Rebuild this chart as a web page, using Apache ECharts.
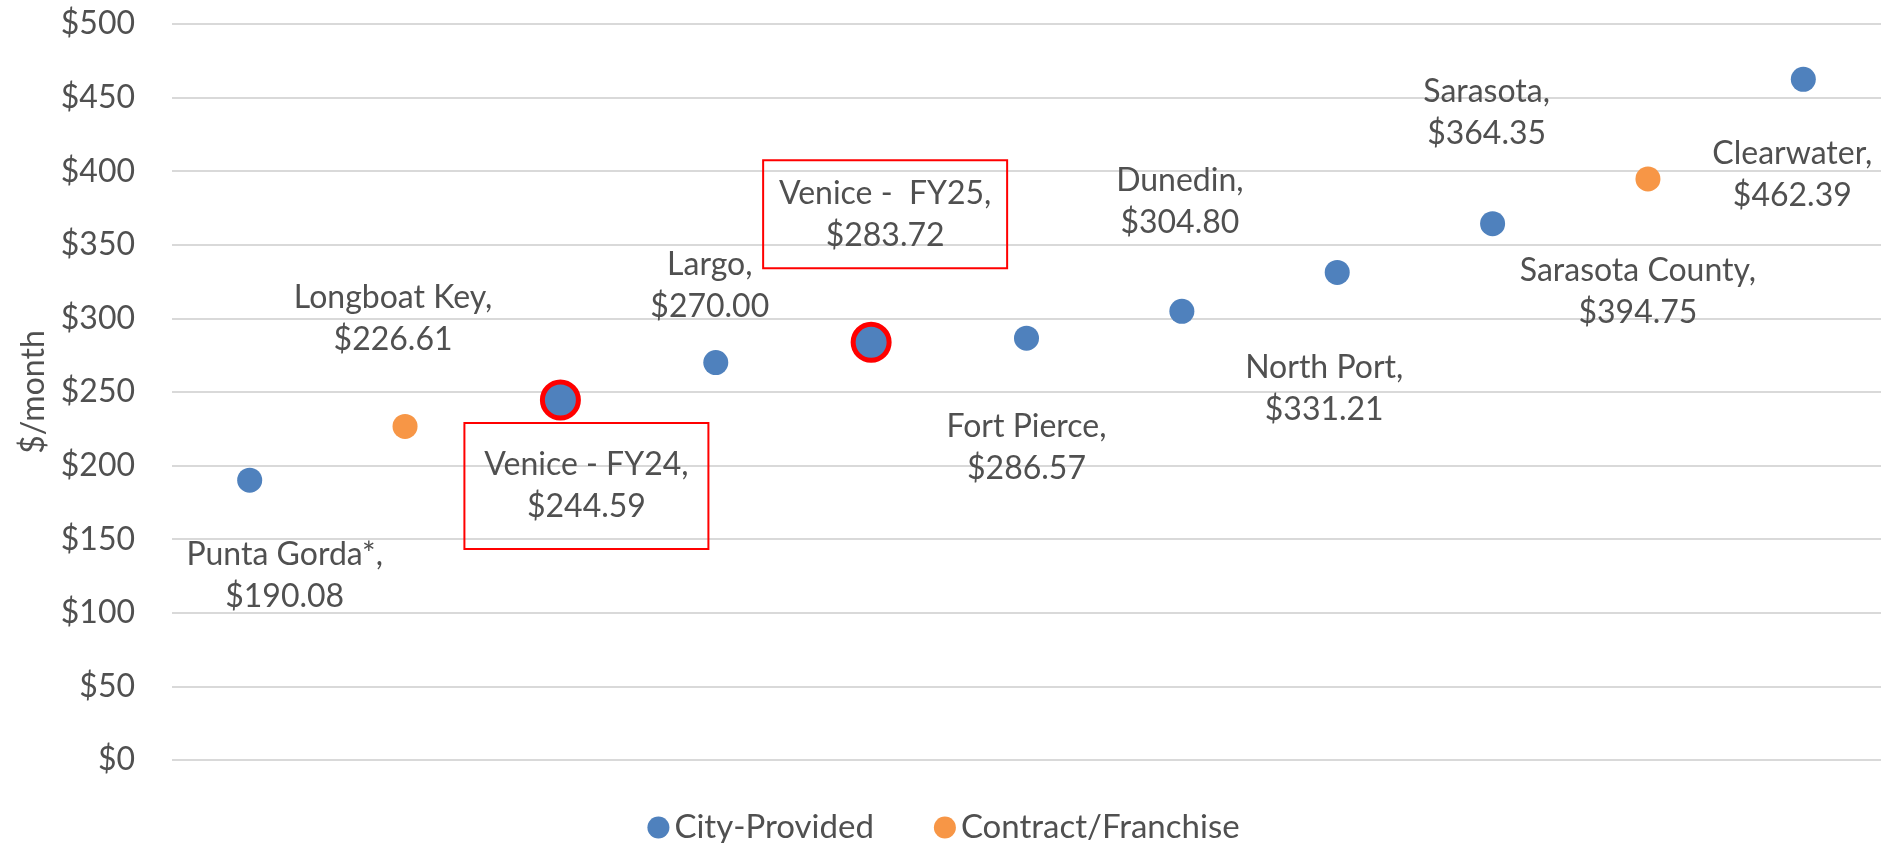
<!DOCTYPE html>
<html>
<head>
<meta charset="utf-8">
<script src="https://cdn.jsdelivr.net/npm/echarts@6/dist/echarts.min.js"></script>
<style>
    html, body { margin: 0; padding: 0; background: #fff; }
    #chart { width: 1887px; height: 843px; }
</style>
</head>
<body>
<div id="chart"></div>
<script>
// cities, in the order they appear left to right
const cities = ['Punta Gorda*', 'Longboat Key', 'Venice - FY24', 'Largo', 'Venice -  FY25',
    'Fort Pierce', 'Dunedin', 'North Port', 'Sarasota', 'Sarasota County', 'Clearwater'];
// $/month, null where the city belongs to the other group
const cityProvided = [190.08, null, 244.59, 270.00, 283.72, 286.57, 304.80, 331.21, 364.35, null, 462.39];
const contractFranchise = [null, 226.61, null, null, null, null, null, null, null, 394.75, null];
// Venice points get the red outline and boxed label
const highlighted = ['Venice - FY24', 'Venice -  FY25'];
const yTicks = { min: 0, max: 500, step: 50 };

// where each data label sits relative to its dot (layout only)
const labelOffsets = [
    [35, 95], [-12, -108], [26, 86], [-6, -77], [14, -128],
    [0, 110], [-2, -110], [-13, 116], [-6, -111], [-10, 113], [-11, 95]
];

const textColor = '#505050';
const fontFamily = 'Lato, "Open Sans", sans-serif';

function buildData(values) {
    return values.map((v, i) => {
        if (v === null) return '-';
        const item = {
            value: v,
            label: { offset: labelOffsets[i] }
        };
        if (highlighted.indexOf(cities[i]) >= 0) {
            item.symbolSize = 36;
            item.itemStyle = { borderColor: '#ff0000', borderWidth: 5 };
            item.label.borderColor = '#ff0000';
            item.label.borderWidth = 2;
            item.label.width = 210;
            item.label.padding = i === 2 ? [21, 17, 21, 17] : [12, 17, 12, 17];
        }
        return item;
    });
}

const labelStyle = {
    show: true,
    position: 'inside',
    color: textColor,
    fontFamily: fontFamily,
    fontSize: 32,
    lineHeight: 42,
    align: 'center',
    formatter: p => cities[p.dataIndex] + ',\n$' + p.value.toFixed(2)
};

const chart = echarts.init(document.getElementById('chart'));
chart.setOption({
    animation: false,
    textStyle: { fontFamily: fontFamily },
    grid: { left: 172, right: 6, top: 24, bottom: 83 },
    legend: {
        bottom: -6,
        left: 'center',
        icon: 'circle',
        itemWidth: 22,
        itemHeight: 22,
        itemGap: 60,
        textStyle: { color: textColor, fontSize: 33, fontFamily: fontFamily },
        data: ['City-Provided', 'Contract/Franchise']
    },
    xAxis: {
        type: 'category',
        data: cities,
        boundaryGap: true,
        axisLine: { show: false },
        axisTick: { show: false },
        axisLabel: { show: false },
        splitLine: { show: false }
    },
    yAxis: {
        type: 'value',
        min: yTicks.min,
        max: yTicks.max,
        interval: yTicks.step,
        name: '$/month',
        nameLocation: 'middle',
        nameGap: 116,
        nameTextStyle: { color: textColor, fontSize: 32, fontFamily: fontFamily },
        axisLine: { show: false },
        axisTick: { show: false },
        axisLabel: {
            color: textColor,
            fontSize: 32,
            margin: 37,
            formatter: v => '$' + v
        },
        splitLine: { lineStyle: { color: '#d9d9d9', width: 2 } }
    },
    series: [
        {
            name: 'City-Provided',
            type: 'scatter',
            symbolSize: 25,
            itemStyle: { color: '#4f81bd', opacity: 1 },
            label: labelStyle,
            data: buildData(cityProvided)
        },
        {
            name: 'Contract/Franchise',
            type: 'scatter',
            symbolSize: 25,
            itemStyle: { color: '#f79646', opacity: 1 },
            label: labelStyle,
            data: buildData(contractFranchise)
        }
    ]
});
</script>
</body>
</html>
